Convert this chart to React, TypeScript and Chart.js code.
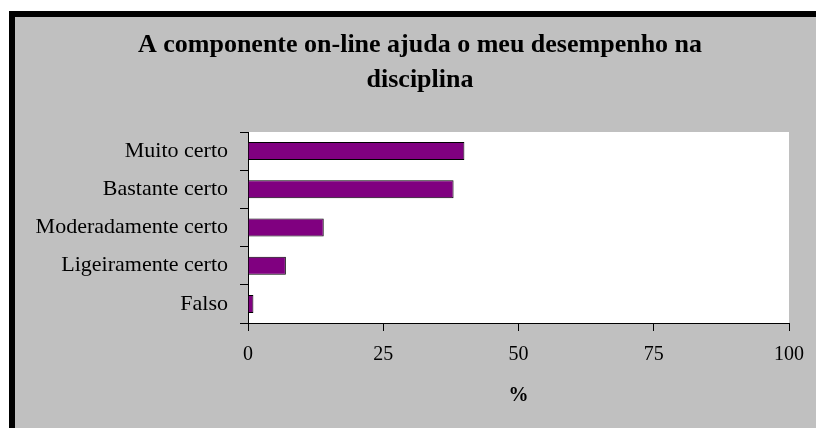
import React, { useEffect, useRef } from "react";
import { Chart, registerables } from "chart.js";

Chart.register(...registerables);

const categories = ["Muito certo", "Bastante certo", "Moderadamente certo", "Ligeiramente certo", "Falso"];
const values = [40, 38, 14, 7, 1];
const xTickValues = [0, 25, 50, 75, 100];
const titleLines = ["A componente on-line ajuda o meu desempenho na", "disciplina"];
const xAxisTitle = "%";

const FONT = "'Liberation Serif', 'Times New Roman', serif";

const backgroundPlugin = {
  id: "excelBackground",
  beforeDraw(chart: any) {
    const { ctx, width, height, chartArea } = chart;
    ctx.save();
    ctx.fillStyle = "#ffffff";
    ctx.fillRect(0, 0, width, height);
    ctx.fillStyle = "#000000";
    ctx.fillRect(9, 11, width - 9, height - 11);
    ctx.fillStyle = "#c0c0c0";
    ctx.fillRect(15, 17, width - 15, height - 17);
    ctx.fillStyle = "#ffffff";
    ctx.fillRect(chartArea.left, chartArea.top, chartArea.right - chartArea.left, chartArea.bottom - chartArea.top);
    ctx.restore();
  },
};

export default function App() {
  const canvasRef = useRef<HTMLCanvasElement | null>(null);

  useEffect(() => {
    if (!canvasRef.current) return;
    const chart = new Chart(canvasRef.current, {
      type: "bar",
      data: {
        labels: categories,
        datasets: [
          {
            data: values,
            backgroundColor: "#800080",
            borderColor: "#000000",
            borderWidth: 1,
            barPercentage: 0.47,
            categoryPercentage: 1,
          },
        ],
      },
      options: {
        indexAxis: "y",
        animation: false,
        responsive: false,
        devicePixelRatio: 1,
        layout: { padding: { left: 24, right: 0, top: 0, bottom: 0 } },
        plugins: {
          legend: { display: false },
          tooltip: { enabled: false },
          title: {
            display: true,
            text: titleLines,
            color: "#000000",
            font: { family: FONT, size: 26, weight: "bold", lineHeight: "35px" },
            padding: { top: 27.5, bottom: 34.5 },
          },
        },
        scales: {
          y: {
            type: "category",
            position: "left",
            grid: { drawOnChartArea: false, drawTicks: true, tickLength: 8, color: "#000000", offset: true },
            border: { display: true, color: "#000000", width: 1 },
            ticks: { color: "#000000", font: { family: FONT, size: 22 }, padding: 12 },
            afterFit(scale: any) {
              scale.width = 224;
            },
          },
          yRight: {
            type: "category",
            position: "right",
            display: true,
            grid: { display: false, drawTicks: false },
            border: { display: false },
            ticks: { display: false },
            afterFit(scale: any) {
              scale.width = 25;
            },
          },
          x: {
            type: "linear",
            min: 0,
            max: 100,
            grid: { drawOnChartArea: false, drawTicks: true, tickLength: 8, color: "#000000" },
            border: { display: true, color: "#000000", width: 1 },
            ticks: { color: "#000000", font: { family: FONT, size: 20 }, padding: 12, stepSize: 25 },
            afterBuildTicks(scale: any) {
              scale.ticks = xTickValues.map((v) => ({ value: v }));
            },
            title: {
              display: true,
              text: xAxisTitle,
              color: "#000000",
              font: { family: FONT, size: 20, weight: "bold" },
              padding: { top: 4, bottom: 20 },
            },
            afterFit(scale: any) {
              scale.height = 105;
            },
          },
        },
      },
      plugins: [backgroundPlugin],
    } as any);
    return () => chart.destroy();
  }, []);

  return (
    <div style={{ position: "fixed", left: 0, top: 0, width: 816, height: 428 }}>
      <canvas ref={canvasRef} width={816} height={428} style={{ display: "block", width: 816, height: 428 }} />
    </div>
  );
}
